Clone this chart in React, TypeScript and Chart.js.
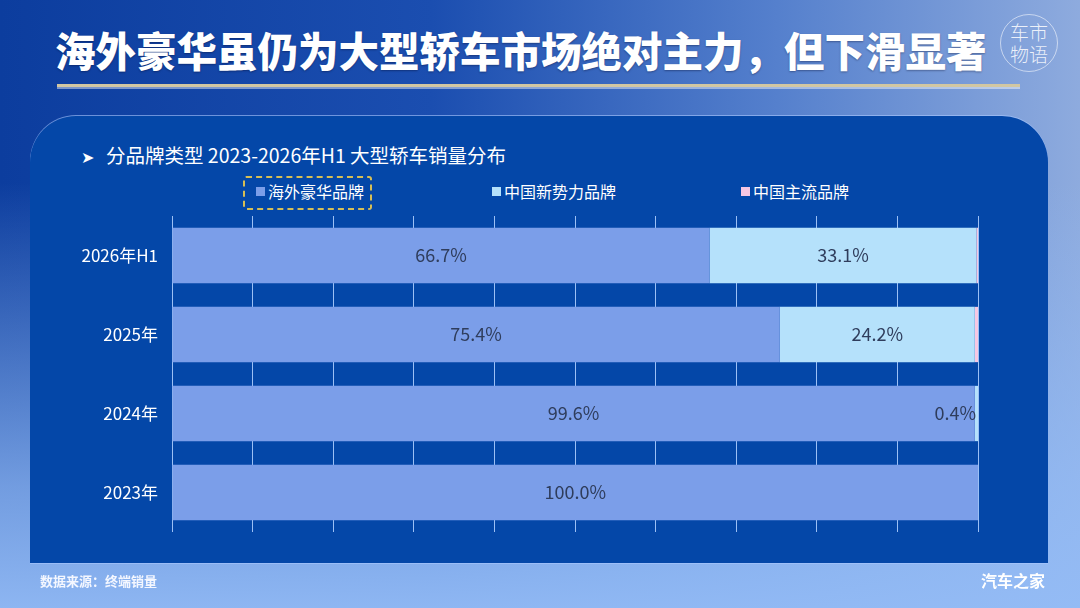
import { useEffect, useRef } from "react"
import { Chart, registerables } from "chart.js"

Chart.register(...registerables)

const categories = ["2026年H1", "2025年", "2024年", "2023年"]
const overseasLuxury = [66.7, 75.4, 99.6, 100.0]
const chinaNewForces = [33.1, 24.2, 0.4, 0]
const chinaMainstream = [0.2, 0.4, 0, 0]
const seriesNames = ["海外豪华品牌", "中国新势力品牌", "中国主流品牌"]
const seriesColors = ["#7B9EE9", "#B5E1FB", "#F6C7E3"]

const FONT = "'Noto Sans CJK SC', 'Noto Sans', sans-serif"

// percent labels inside the segments (only the first two series carry labels)
const segmentLabels = {
  id: "segmentLabels",
  afterDatasetsDraw: (chart: Chart) => {
    const ctx = chart.ctx
    ctx.save()
    ctx.font = `18px ${FONT}`
    ctx.fillStyle = "#2F3D5C"
    ctx.textBaseline = "middle"
    for (let d = 0; d < 2; d++) {
      const meta = chart.getDatasetMeta(d)
      const values = chart.data.datasets[d].data as number[]
      meta.data.forEach((el: any, i: number) => {
        const v = values[i]
        if (!v) return
        const text = v.toFixed(1) + "%"
        const w = ctx.measureText(text).width
        const left = Math.min(el.x, el.base)
        const right = Math.max(el.x, el.base)
        if (right - left > w + 6) {
          ctx.textAlign = "center"
          ctx.fillText(text, (left + right) / 2, el.y)
        } else {
          ctx.textAlign = "right"
          ctx.fillText(text, right - 2, el.y)
        }
      })
    }
    ctx.restore()
  },
}

function BrandChart() {
  const canvasRef = useRef<HTMLCanvasElement>(null)
  const chartRef = useRef<Chart | null>(null)

  useEffect(() => {
    if (!canvasRef.current) return
    if (chartRef.current) chartRef.current.destroy()
    const seriesData = [overseasLuxury, chinaNewForces, chinaMainstream]
    chartRef.current = new Chart(canvasRef.current, {
      type: "bar",
      data: {
        labels: categories,
        datasets: seriesData.map((d, i) => ({
          label: seriesNames[i],
          data: d,
          backgroundColor: seriesColors[i],
          borderWidth: 0,
          barPercentage: 0.7,
          categoryPercentage: 1,
        })),
      },
      options: {
        indexAxis: "y",
        animation: false,
        responsive: false,
        maintainAspectRatio: false,
        layout: { padding: { top: 216, bottom: 76, right: 102, left: 0 } },
        plugins: {
          legend: { display: false },
          tooltip: { enabled: false },
        },
        scales: {
          x: {
            stacked: true,
            min: 0,
            max: 100,
            ticks: { display: false, stepSize: 10 },
            grid: { color: "#9CC0F5", lineWidth: 1, drawTicks: false },
            border: { display: false },
            afterFit: (scale: any) => {
              scale.height = 0
            },
          },
          y: {
            stacked: true,
            grid: { display: false, drawTicks: false },
            border: { display: false },
            ticks: {
              color: "#FFFFFF",
              padding: 14,
              font: { size: 17, family: FONT },
            },
            afterFit: (scale: any) => {
              scale.width = 172
            },
          },
        },
      },
      plugins: [segmentLabels],
    } as any)
    return () => {
      if (chartRef.current) {
        chartRef.current.destroy()
        chartRef.current = null
      }
    }
  }, [])

  return (
    <canvas
      ref={canvasRef}
      width={1080}
      height={608}
      style={{ position: "absolute", left: 0, top: 0, width: 1080, height: 608 }}
    />
  )
}

export default function App() {
  const legendX = [256, 492, 741]
  return (
    <div
      style={{
        position: "fixed",
        left: 0,
        top: 0,
        width: 1080,
        height: 608,
        overflow: "hidden",
        fontFamily: FONT,
        background:
          "linear-gradient(to bottom, rgba(148,188,246,0) 30%, rgba(148,188,246,0.75) 80%, rgba(148,188,246,0.95) 100%), linear-gradient(to right, #0c3d9e 0%, #1b4eb0 40%, #5580cd 72%, #8eabde 100%)",
      }}
    >
      {/* title */}
      <div
        style={{
          position: "absolute",
          left: 55,
          top: 22,
          color: "#fff",
          fontSize: 40.5,
          fontWeight: 900,
          lineHeight: "56px",
          whiteSpace: "nowrap",
          textShadow: "0 1px 2px rgba(0,0,30,0.35)",
        }}
      >
        海外豪华虽仍为大型轿车市场绝对主力，但下滑显著
      </div>
      {/* logo */}
      <div
        style={{
          position: "absolute",
          left: 1000,
          top: 14,
          width: 58,
          height: 58,
          borderRadius: "50%",
          border: "1px solid rgba(255,255,255,0.55)",
          color: "rgba(255,255,255,0.85)",
          fontSize: 19,
          fontWeight: 300,
          lineHeight: "22px",
          textAlign: "center",
          paddingTop: 6,
          boxSizing: "border-box",
        }}
      >
        车市
        <br />
        物语
      </div>
      {/* gold rule */}
      <div
        style={{
          position: "absolute",
          left: 57,
          top: 84,
          width: 963,
          height: 3,
          background: "#D2C7A2",
          boxShadow: "0 2px 0 rgba(255,255,255,0.45)",
        }}
      />
      {/* panel */}
      <div
        style={{
          position: "absolute",
          left: 30,
          top: 116,
          width: 1018,
          height: 447,
          background: "#0447A8",
          borderTopLeftRadius: 46,
          borderTopRightRadius: 46,
          boxShadow: "0 -1px 0 rgba(170,200,255,0.6), 0 1px 0 rgba(170,200,255,0.6)",
        }}
      />
      {/* subtitle */}
      <div
        style={{
          position: "absolute",
          left: 81,
          top: 141,
          color: "#fff",
          fontSize: 19.5,
          lineHeight: "28px",
          whiteSpace: "nowrap",
        }}
      >
        <span style={{ marginRight: 12, fontSize: 16 }}>➤</span>分品牌类型 2023-2026年H1 大型轿车销量分布
      </div>
      {/* legend */}
      <div
        style={{
          position: "absolute",
          left: 243,
          top: 176,
          width: 129,
          height: 34,
          border: "2px dashed #D6BE55",
          borderRadius: 3,
          boxSizing: "border-box",
        }}
      />
      {seriesNames.map((name, i) => (
        <div
          key={name}
          style={{
            position: "absolute",
            left: legendX[i],
            top: 180,
            display: "flex",
            alignItems: "center",
            gap: 3,
            color: "#fff",
            fontSize: 16,
            lineHeight: "22px",
            whiteSpace: "nowrap",
          }}
        >
          <span style={{ width: 9, height: 9, background: seriesColors[i], display: "inline-block" }} />
          {name}
        </div>
      ))}
      <BrandChart />
      {/* footer */}
      <div
        style={{
          position: "absolute",
          left: 40,
          top: 572,
          color: "#F4F7FF",
          fontSize: 13,
          fontWeight: 700,
          lineHeight: "18px",
        }}
      >
        数据来源：终端销量
      </div>
      <div
        style={{
          position: "absolute",
          left: 981,
          top: 570,
          color: "#fff",
          fontSize: 16,
          fontWeight: 700,
          lineHeight: "20px",
        }}
      >
        汽车之家
      </div>
    </div>
  )
}
